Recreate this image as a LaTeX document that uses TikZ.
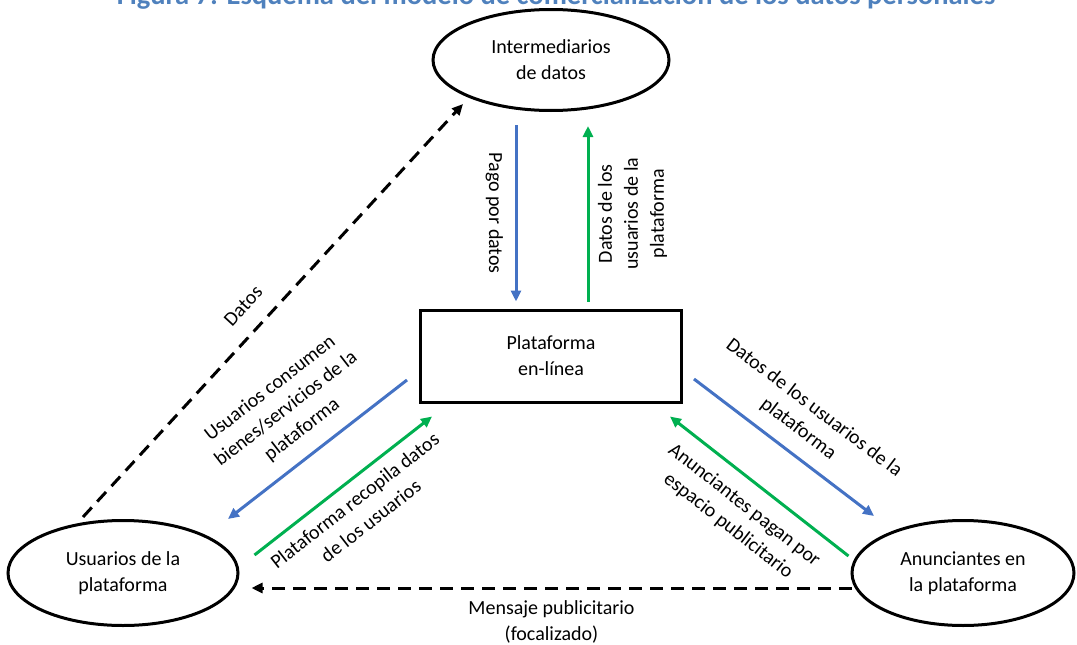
\documentclass[tikz,border=0pt]{standalone}
\usepackage{fontspec}
\setmainfont{Carlito}
\usetikzlibrary{arrows.meta, shapes.geometric, calc}
\definecolor{flowblue}{RGB}{68,114,196}
\definecolor{flowgreen}{RGB}{0,176,80}
\definecolor{titleblue}{RGB}{79,129,189}

\begin{document}
\begin{tikzpicture}[x=1pt,y=-1pt,
  every node/.style={font=\fontsize{20}{26}\selectfont},
  actor/.style={draw,ellipse,line width=3pt,align=center,inner sep=0pt},
  lbl/.style={sloped,align=center,inner sep=0pt,text=black},
  tip/.style={-{Triangle[length=11pt,width=10pt]}},
  bluearrow/.style={tip,line width=3pt,flowblue},
  greenarrow/.style={tip,line width=3pt,flowgreen},
  dasharrow/.style={tip,line width=3pt,dash pattern=on 13pt off 8pt}]
  \useasboundingbox (0,0) rectangle (1077,645);
  % title, cut at the top edge
  \node[anchor=base,text=titleblue,font=\bfseries\fontsize{28.5}{32}\selectfont](title) at(556,5){Figura 7: Esquema del modelo de comercialización de los datos personales};
  \node[actor,minimum width=236pt,minimum height=101pt](inter) at(551,60){Intermediarios\\de datos};
  \node[draw,line width=3pt,align=center,minimum width=261pt,minimum height=92pt](plat) at(551,356){Plataforma\\en-línea};
  \node[actor,minimum width=230pt,minimum height=105pt](users) at(123,573){Usuarios de la\\plataforma};
  \node[actor,minimum width=222pt,minimum height=105pt](adv) at(963,573){Anunciantes en\\la plataforma};
  % platform <-> brokers
  \draw[bluearrow]($(inter.south)+(-35,13)$)--node[lbl,allow upside down,below=11.5pt]{Pago por datos}($(plat.north)+(-35,-7)$);
  \draw[greenarrow]($(plat.north)+(37,-7)$)--node[lbl,allow upside down,below=8.5pt]{Datos de los\\usuarios de la\\plataforma}($(inter.south)+(37,14)$);
  % users side
  \draw[dasharrow]($(users.north)+(-40,-2)$)--node[lbl,pos=0.47,above=17pt]{Datos}($(inter.south)+(-88,-8)$);
  \draw[bluearrow]($(plat.west)+(-12,24)$)--node[lbl,above=15pt]{Usuarios consumen\\bienes/servicios de la\\plataforma}($(users.north)+(105,0)$);
  \draw[greenarrow]($(users.east)+(15,-18)$)--node[lbl,below=10pt]{Plataforma recopila datos\\de los usuarios}($(plat.south west)+(13,13)$);
  % advertisers side
  \draw[bluearrow]($(plat.east)+(11,23)$)--node[lbl,above=13.5pt]{Datos de los usuarios de la\\plataforma}($(adv.north)+(-89,-3)$);
  \draw[greenarrow]($(adv.west)+(-2,-17)$)--node[lbl,below=14.5pt]{Anunciantes pagan por\\espacio publicitario}($(plat.south east)+(-13,13)$);
  \draw[dasharrow]($(adv.west)+(1,15)$)--node[lbl,below=11.5pt]{Mensaje publicitario\\(focalizado)}($(users.east)+(12,15)$);
\end{tikzpicture}
\end{document}
